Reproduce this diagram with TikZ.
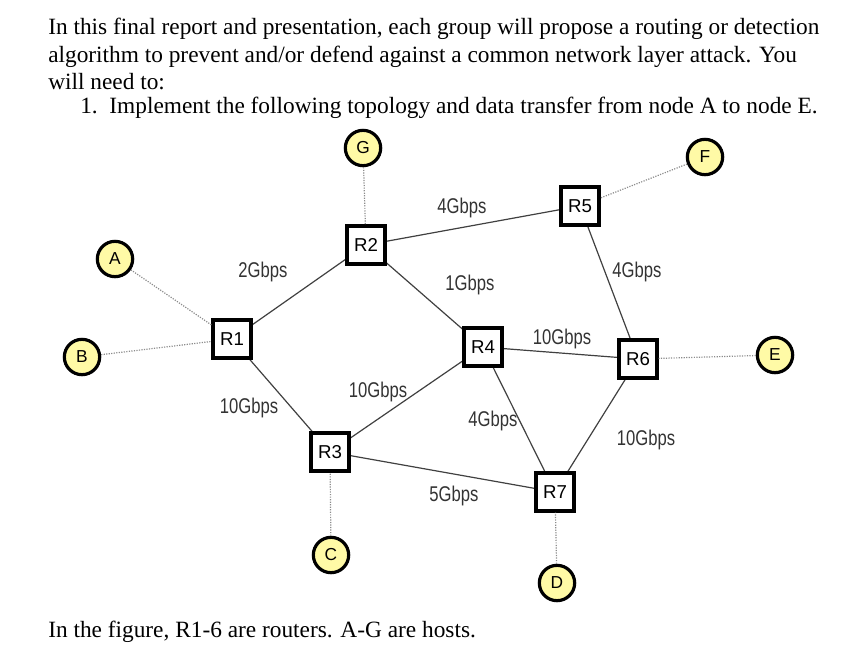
\documentclass[tikz,border=0pt]{standalone}
\usepackage{fontspec}
\setmainfont{Liberation Serif}
\newfontfamily\lsans{Liberation Sans}
\begin{document}
\begin{tikzpicture}[x=0.75pt,y=-0.75pt,
 router/.style={draw,line width=2.4pt,fill=white,minimum size=28.5pt,inner sep=0pt,font=\lsans\fontsize{14}{16}\selectfont},
 host/.style={draw,circle,line width=2.4pt,fill=yellow!35!white,minimum size=26.5pt,inner sep=0pt,font=\lsans\fontsize{13}{15}\selectfont},
 rlink/.style={draw=black!75,line width=0.9pt},
 hlink/.style={draw=black!45,line width=0.9pt,densely dotted},
 lbl/.style={font=\lsans\fontsize{16}{18}\selectfont,xscale=0.78,text=black!80,inner sep=0pt}]
\useasboundingbox (0,0) rectangle (860,657);
\node[anchor=west,align=left,inner sep=0pt,font=\fontsize{17.5}{20.3}\selectfont] (txt) at (48,54)
 {In this final report and presentation, each group will propose a routing or detection\\
  algorithm to prevent and/or defend against a common network layer attack. You\\
  will need to:};
\node[anchor=west,inner sep=0pt,font=\fontsize{17.5}{20}\selectfont] (item) at (80,108)
 {1.\ \ Implement the following topology and data transfer from node A to node E.};
\node[anchor=west,inner sep=0pt,font=\fontsize{17.5}{20}\selectfont] (foot) at (48,632)
 {In the figure, R1-6 are routers. A-G are hosts.};
\coordinate (pR1) at (232,339); \coordinate (pR2) at (366,245); \coordinate (pR3) at (330,452);
\coordinate (pR4) at (483,347); \coordinate (pR5) at (580,206); \coordinate (pR6) at (638,359);
\coordinate (pR7) at (555,492);
\draw[rlink] (pR1)--(pR2) (pR1)--(pR3) (pR2)--(pR5) (pR2)--(pR4) (pR5)--(pR6) (pR4)--(pR6)
 (pR3)--(pR4) (pR3)--(pR7) (pR4)--(pR7) (pR6)--(pR7);
\node[host] (A) at (115,259) {A};
\node[host] (B) at (82,357) {B};
\node[host] (G) at (363,148) {G};
\node[host] (F) at (705,157) {F};
\node[host] (E) at (775,355) {E};
\node[host] (C) at (331,555) {C};
\node[host] (D) at (557,583) {D};
\foreach \r in {1,...,7} \node[router] (R\r) at (pR\r) {R\r};
\draw[hlink] (A)--(R1); \draw[hlink] (B)--(R1); \draw[hlink] (G)--(R2); \draw[hlink] (F)--(R5);
\draw[hlink] (E)--(R6); \draw[hlink] (C)--(R3); \draw[hlink] (D)--(R7);
\node[lbl] (l1) at (462,208) {4Gbps};
\node[lbl] (l2) at (263,272) {2Gbps};
\node[lbl] (l3) at (470,285) {1Gbps};
\node[lbl] (l4) at (637,272) {4Gbps};
\node[lbl] (l5) at (562,339) {10Gbps};
\node[lbl] (l6) at (249,408) {10Gbps};
\node[lbl] (l7) at (378,392) {10Gbps};
\node[lbl] (l8) at (493,421) {4Gbps};
\node[lbl] (l9) at (646,440) {10Gbps};
\node[lbl] (l10) at (454,496) {5Gbps};
\end{tikzpicture}
\end{document}
